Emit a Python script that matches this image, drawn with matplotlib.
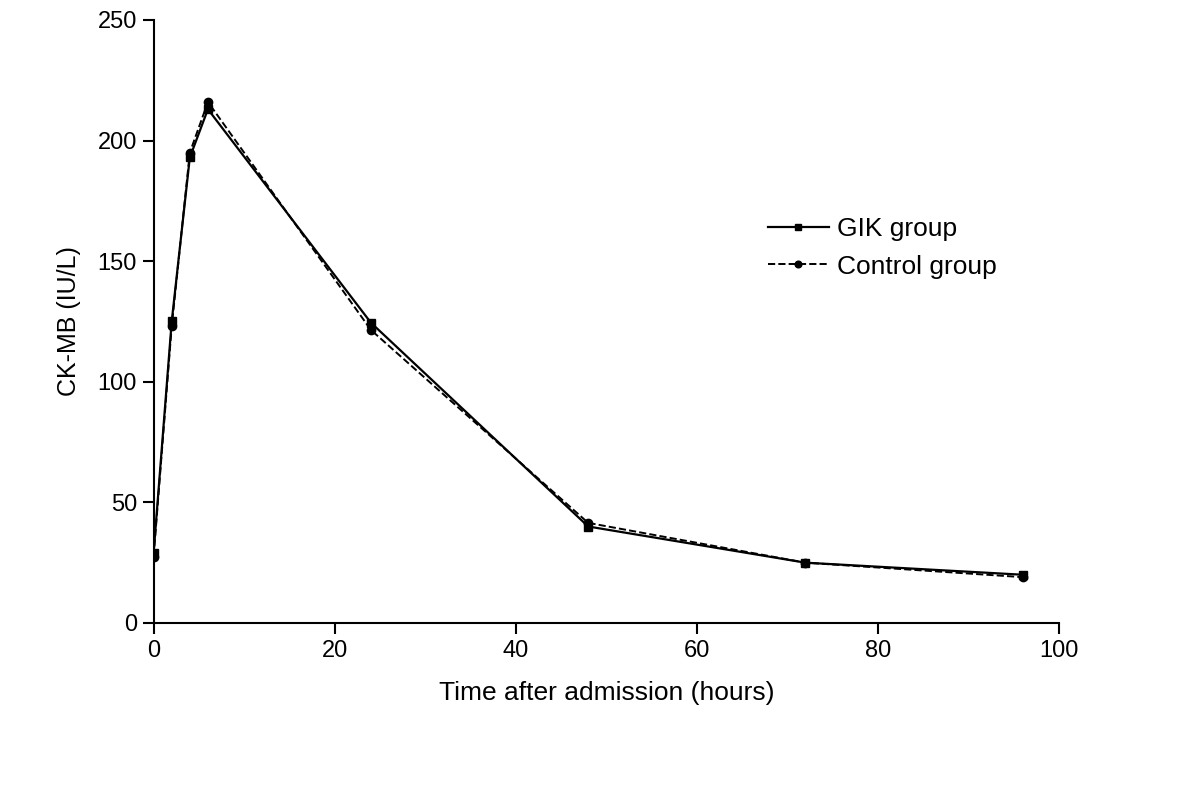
import matplotlib
matplotlib.use("Agg")
import matplotlib.pyplot as plt

plt.rcParams['font.family'] = ['Liberation Sans', 'DejaVu Sans']

# CK-MB over time after admission
hours = [0, 2, 4, 6, 24, 48, 72, 96]
gik = [29, 125, 193, 213, 124.5, 40, 25, 20]
control = [27.5, 123, 195, 216, 121.5, 41.5, 25, 19]

fig = plt.figure(figsize=(12, 7.93), dpi=100)
ax = fig.add_axes([0.128, 0.2144, 0.7545, 0.7604])

ax.plot(hours, gik, color='black', linestyle='-', linewidth=1.6,
        marker='s', markersize=6, label='GIK group')
ax.plot(hours, control, color='black', linestyle='--', linewidth=1.4,
        marker='o', markersize=6, label='Control group')

ax.set_xlim(0, 100)
ax.set_ylim(0, 250)
ax.set_xticks([0, 20, 40, 60, 80, 100])
ax.set_yticks([0, 50, 100, 150, 200, 250])
ax.spines['top'].set_visible(False)
ax.spines['right'].set_visible(False)
for s in ['left', 'bottom']:
    ax.spines[s].set_linewidth(1.5)
ax.tick_params(direction='out', length=8, width=1.5, labelsize=17, pad=4)

ax.set_xlabel('Time after admission (hours)', fontsize=19, labelpad=14)
ax.set_ylabel('CK-MB (IU/L)', fontsize=18, labelpad=12)

leg = ax.legend(loc='upper left', bbox_to_anchor=(0.667, 0.69), frameon=False,
                fontsize=19, handlelength=2.3, handletextpad=0.3,
                labelspacing=0.5, markerscale=0.8, borderaxespad=0)

plt.savefig('out.png', dpi=100)
